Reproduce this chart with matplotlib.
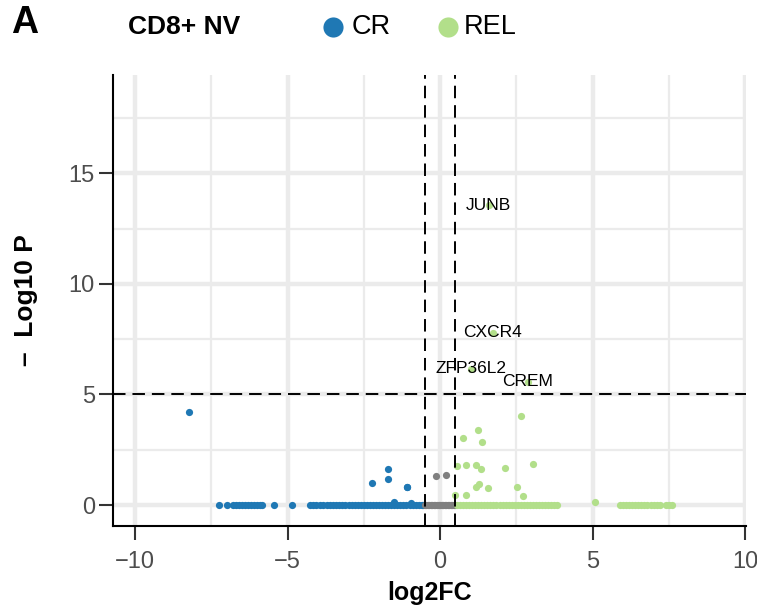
"""Volcano plot: CD8+ NV, CR vs REL."""

import matplotlib

matplotlib.use("Agg")

import matplotlib.pyplot as plt
from matplotlib.lines import Line2D
import numpy as np

plt.rcParams["font.family"] = ["Liberation Sans", "DejaVu Sans"]
plt.rcParams["lines.scale_dashes"] = False

BLUE = "#1f78b4"
GREEN = "#b2df8a"
GREY = "#808080"

# off-baseline points (log2FC, -log10 P)
cr_x = [-8.24, -1.72, -1.72, -2.23, -1.08, -1.09, -1.50, -0.94]
cr_y = [4.19, 1.62, 1.16, 1.01, 0.83, 0.83, 0.12, 0.09]

rel_x = [1.60, 1.73, 1.00, 2.88, 2.67, 1.24, 0.74, 1.37, 0.54, 0.85, 1.18,
         1.35, 2.12, 3.04, 1.29, 1.18, 1.57, 2.53, 0.50, 0.85, 2.72, 5.07]
rel_y = [13.56, 7.80, 6.17, 5.58, 4.02, 3.39, 3.05, 2.83, 1.77, 1.80, 1.83,
         1.62, 1.66, 1.87, 0.97, 0.83, 0.76, 0.83, 0.44, 0.44, 0.39, 0.14]

ns_x = [-0.13, 0.19]
ns_y = [1.30, 1.36]

# genes sitting on the baseline (-log10 P ~ 0)
cr_base_x = [-7.25, -7.0, -6.8, -6.7, -6.6, -6.5, -6.4, -6.3, -6.2, -6.1,
             -6.0, -5.9, -5.85, -5.45, -4.85, -4.25, -4.15, -4.05, -3.95,
             -3.85, -3.7, -3.6, -3.5, -3.4, -3.3, -3.2, -3.1, -3.0, -2.9,
             -2.8, -2.7, -2.6, -2.5, -2.4, -2.3, -2.2, -2.1, -2.0, -1.9,
             -1.8, -1.7, -1.6, -1.5, -1.4, -1.3, -1.2, -1.1, -1.0, -0.9,
             -0.8, -0.7, -0.6, -0.55]
ns_base_x = [-0.5, -0.45, -0.4, -0.35, -0.3, -0.25, -0.2, -0.15, -0.1,
             -0.05, 0.0, 0.05, 0.1, 0.15, 0.2, 0.25, 0.3, 0.35, 0.4, 0.45,
             0.5]
rel_base_x = [0.55, 0.65, 0.75, 0.85, 0.95, 1.05, 1.15, 1.25, 1.35, 1.45,
              1.55, 1.65, 1.75, 1.85, 1.95, 2.05, 2.15, 2.25, 2.35, 2.45,
              2.55, 2.65, 2.75, 2.85, 2.95, 3.05, 3.15, 3.25, 3.35, 3.45,
              3.55, 3.65, 3.75, 3.85, 5.9, 6.0, 6.1, 6.2, 6.3, 6.4, 6.5,
              6.6, 6.7, 6.8, 6.9, 7.0, 7.1, 7.2, 7.4, 7.5, 7.6]

label_genes = ["JUNB", "CXCR4", "ZFP36L2", "CREM"]
label_x = [1.60, 1.73, 1.00, 2.88]
label_y = [13.56, 7.80, 6.17, 5.58]

fig = plt.figure(figsize=(7.57, 6.14), dpi=100)
ax = fig.add_axes([0.1493, 0.1433, 0.8362, 0.7346])

for v in [-10, -5, 0, 5, 10]:
    ax.axvline(v, color="#ebebeb", lw=3.2, zorder=0)
for v in [-7.5, -2.5, 2.5, 7.5]:
    ax.axvline(v, color="#ebebeb", lw=1.6, zorder=0)
for v in [0, 5, 10, 15]:
    ax.axhline(v, color="#ebebeb", lw=3.2, zorder=0)
for v in [2.5, 7.5, 12.5, 17.5]:
    ax.axhline(v, color="#ebebeb", lw=1.6, zorder=0)

ms = 27
ax.scatter(cr_base_x, np.zeros(len(cr_base_x)), s=ms, color=BLUE, lw=0, zorder=2)
ax.scatter(ns_base_x, np.zeros(len(ns_base_x)), s=ms, color=GREY, lw=0, zorder=2)
ax.scatter(rel_base_x, np.zeros(len(rel_base_x)), s=ms, color=GREEN, lw=0, zorder=2)
ax.scatter(cr_x, cr_y, s=ms, color=BLUE, lw=0, zorder=2)
ax.scatter(ns_x, ns_y, s=ms, color=GREY, lw=0, zorder=2)
ax.scatter(rel_x, rel_y, s=ms, color=GREEN, lw=0, zorder=2)

for x in [-0.5, 0.5]:
    ax.axvline(x, color="black", lw=1.4, dashes=(9, 5), zorder=3)
ax.axhline(5, color="black", lw=1.4, dashes=(9, 5), zorder=3)

for g, x, y in zip(label_genes, label_x, label_y):
    ax.text(x, y, g, ha="center", va="center", fontsize=12.5, color="black", zorder=4)

ax.set_xlim(-10.72, 10.03)
ax.set_ylim(-0.95, 19.45)
ax.set_xticks([-10, -5, 0, 5, 10])
ax.set_yticks([0, 5, 10, 15])
ax.set_xticklabels(["\u221210", "\u22125", "0", "5", "10"])
for s in ["top", "right"]:
    ax.spines[s].set_visible(False)
for s in ["left", "bottom"]:
    ax.spines[s].set_linewidth(1.5)
ax.tick_params(length=10, width=1.5, color="#333333", labelsize=17,
               labelcolor="#4d4d4d")
ax.tick_params(axis="x", pad=8)
ax.tick_params(axis="y", pad=3)
ax.set_xlabel("log2FC", fontsize=18, fontweight="bold", labelpad=6)
fig.text(26 / 757, 1 - 300 / 614, "\u2013  Log10 P", fontsize=19,
         fontweight="bold", rotation=90, ha="center", va="center")

fig.text(0.014, 0.962, "A", fontsize=27, fontweight="bold", va="center")
fig.text(0.169, 0.956, "CD8+ NV", fontsize=19, fontweight="bold", va="center")
for cx, col, lx, lab in [(333, BLUE, 352, "CR"), (448, GREEN, 464, "REL")]:
    fig.add_artist(Line2D([cx / 757], [0.956], transform=fig.transFigure,
                          ls="", marker="o", ms=14.5, color=col, mew=0))
    fig.text(lx / 757, 0.956, lab, fontsize=19.5, va="center")

fig.savefig("out.png", dpi=100, facecolor="white")
